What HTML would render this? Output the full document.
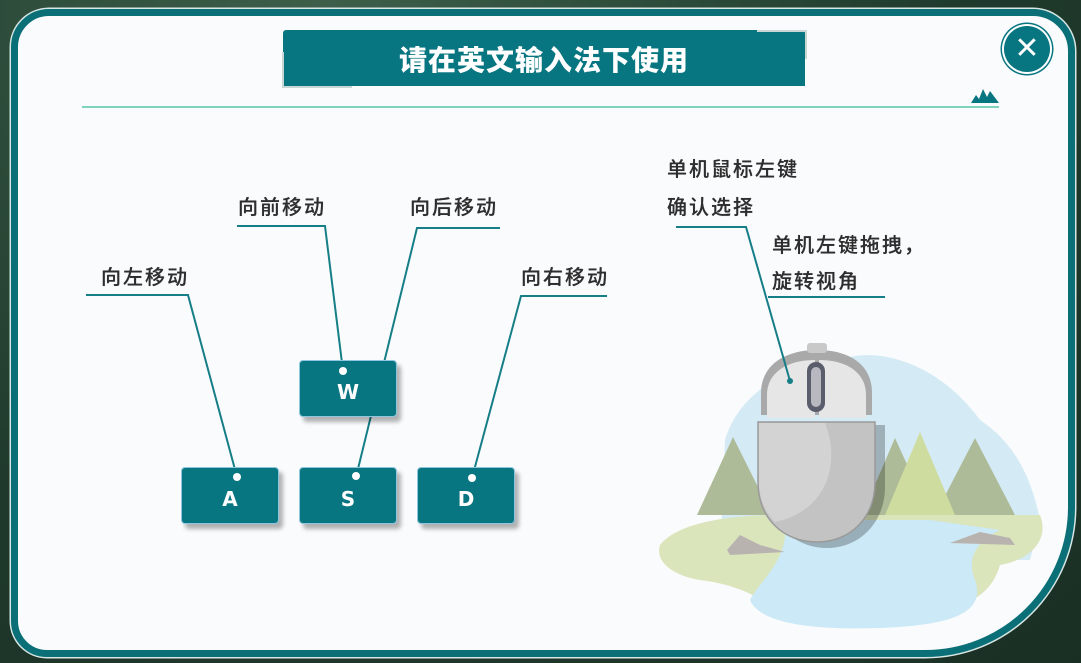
<!DOCTYPE html>
<html><head><meta charset="utf-8"><style>
html,body{margin:0;padding:0;}
body{width:1081px;height:663px;position:relative;overflow:hidden;background:radial-gradient(ellipse at 30% 0%,#3d5f4a,#1f3a2c 60%,#1a2f24);font-family:"Liberation Sans","Noto Sans CJK SC",sans-serif;}
.panel{position:absolute;left:11px;top:9px;width:1064px;height:648px;box-sizing:border-box;background:#fafbfd;border:7px solid #0a6f76;border-radius:38px 42px 150px 36px / 38px 42px 150px 36px;box-shadow:0 0 0 1.5px #d8e6e4;}
.title{position:absolute;left:283px;top:30px;width:522px;height:56px;background:#087680;border-radius:3px 3px 0 0;color:#fff;font-size:28px;font-weight:900;text-align:center;line-height:58px;letter-spacing:1px;font-family:"Noto Sans CJK SC",sans-serif;}
.hl{position:absolute;left:82px;top:106px;width:917px;height:2px;background:#7fd3bb;}
.close{position:absolute;left:1004px;top:26px;width:46px;height:46px;border-radius:50%;background:#087680;box-shadow:0 0 0 2px #fff,0 0 0 3.5px #087680;color:#fff;text-align:center;line-height:46px;font-size:30px;}
.key{position:absolute;width:96px;height:55px;background:#087680;border:1.5px solid #8ec6df;border-radius:4px;box-shadow:4px 5px 4px rgba(0,0,0,.3);color:#fff;font-size:20px;font-weight:bold;text-align:center;line-height:62px;font-family:"DejaVu Sans",sans-serif;}
.lbl{position:absolute;font-size:20px;color:#2e2e2e;font-weight:500;letter-spacing:2px;font-family:"Noto Sans CJK SC",sans-serif;line-height:24px;text-shadow:0 0 .4px #2e2e2e;}
svg{position:absolute;left:0;top:0;}
</style></head><body>
<div class="panel"></div>
<div class="title">请在英文输入法下使用</div>
<svg width="1081" height="663" style="z-index:1">
<path d="M283 52 V87 H352" stroke="#c9d6d6" stroke-width="2" fill="none"/>
<path d="M757 31 H806 V59" stroke="#c9d6d6" stroke-width="2" fill="none"/>
<path d="M971 103 L976 95 L979 99 L983 89 L987 97 L990 91 L999 103 Z" fill="#087680"/>
</svg>
<div class="hl"></div>
<div class="close">✕</div>

<svg width="1081" height="663" style="z-index:0">
<!-- landscape -->
<path d="M725 440 C740 390 790 365 840 360 C880 345 940 365 980 420 C1010 440 1030 470 1040 520 L1030 560 L720 560 Z" fill="#d4ebf6"/>
<g fill="#aebb98">
<path d="M733 437 L697 515 L772 515Z"/>
<path d="M895 438 L862 515 L930 515Z"/><path d="M975 438 L935 515 L1015 515Z"/>
</g>
<path d="M920 432 L885 515 L955 515Z" fill="#cfdc9f"/>
<path d="M660 545 C680 520 740 515 780 515 L1040 515 C1050 540 1030 560 1000 565 C990 600 960 610 900 620 L780 620 C770 600 740 585 700 580 C670 575 655 560 660 545Z" fill="#dae5bc"/>
<path d="M785 520 C790 560 760 580 750 600 C760 625 820 630 880 628 C960 625 985 610 975 580 C965 555 980 540 1000 530 L930 520Z" fill="#cbe9f6"/>
<path d="M727 550 L740 535 L760 545 L785 552 L730 555Z" fill="#b9b3b0"/>
<path d="M950 543 L980 532 L1010 538 L1015 545Z" fill="#b9b3b0"/>
<!-- mouse -->
<g>
<path d="M768 425 H885 V487 C885 522 860 548 827 548 C793 548 768 522 768 487Z" fill="#000" opacity=".25"/>
<path d="M761 415 V393 C761 365 785 350 817 350 C850 350 872 365 872 393 V415Z" fill="#a9a9a9"/>
<rect x="807" y="343" width="20" height="10" rx="3" fill="#c9c9c9"/>
<path d="M767 418 V395 C767 372 788 360 815 360 V418Z M819 360 C846 360 866 372 866 395 V418 H819Z" fill="#e6e6e6"/>
<rect x="807" y="362" width="18" height="50" rx="9" fill="#5a5d6b"/>
<rect x="811" y="367" width="10" height="40" rx="5" fill="#b8b8c0"/>
<path d="M758 422 H875 V482 C875 518 850 542 817 542 C783 542 758 518 758 482Z" fill="#c3c3c3" stroke="#9a9a9a" stroke-width="1.5"/>
<path d="M759 423 H825 C840 460 830 510 775 522 C763 510 759 495 759 482Z" fill="#d3d3d3"/>
</g>
<!-- connectors -->
<g stroke="#157e86" stroke-width="2" fill="none">
<path d="M86 295 H188 L237 477"/>
<path d="M237 226 H325 L343 371"/>
<path d="M500 228 H417 L356 477"/>
<path d="M607 296 H521 L472 478"/>
<path d="M676 227 H746 L790 381"/>
<path d="M768 297 H885"/>
</g>
<circle cx="790" cy="381" r="3" fill="#157e86"/>
</svg>
<div class="key" style="left:299px;top:360px;z-index:1">W</div>
<div class="key" style="left:181px;top:467px;z-index:1">A</div>
<div class="key" style="left:299px;top:467px;z-index:1">S</div>
<div class="key" style="left:417px;top:467px;z-index:1">D</div>
<svg width="1081" height="663" style="z-index:2">
<g fill="#fff"><circle cx="343" cy="371" r="4"/><circle cx="237" cy="477" r="4"/><circle cx="356" cy="476" r="4"/><circle cx="472" cy="478" r="4"/></g>
</svg>
<div class="lbl" style="left:101px;top:264px">向左移动</div>
<div class="lbl" style="left:238px;top:194px">向前移动</div>
<div class="lbl" style="left:410px;top:194px">向后移动</div>
<div class="lbl" style="left:521px;top:264px">向右移动</div>
<div class="lbl" style="left:667px;top:156px">单机鼠标左键</div>
<div class="lbl" style="left:667px;top:194px">确认选择</div>
<div class="lbl" style="left:772px;top:232px">单机左键拖拽，</div>
<div class="lbl" style="left:772px;top:268px">旋转视角</div>
</body></html>
